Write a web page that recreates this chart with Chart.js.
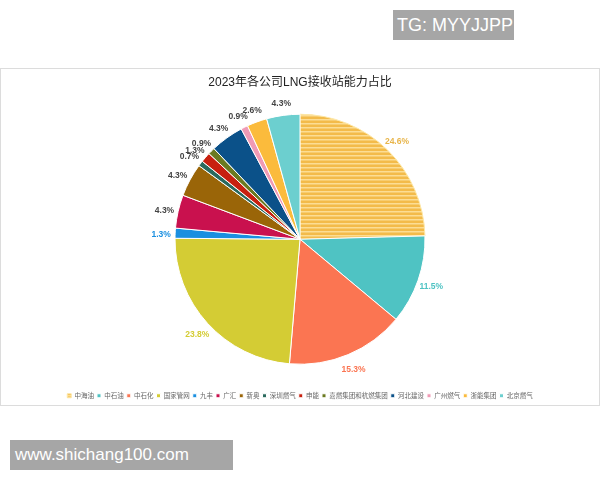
<!DOCTYPE html>
<html>
<head>
<meta charset="utf-8">
<script src="https://cdn.jsdelivr.net/npm/chart.js@4.4.1/dist/chart.umd.min.js"></script>
<style>
  body { margin: 0; width: 600px; height: 480px; background: #fff; position: relative; overflow: hidden; font-family: "Liberation Sans", "Noto Sans CJK SC", sans-serif; }
  #card { position: absolute; left: 0; top: 68px; width: 598px; height: 336px; border: 1px solid #dcdcdc; }
  #pieChart { position: absolute; left: 0; top: 0; }
  .mark { position: absolute; background: #a6a6a6; color: #fff; font-family: "Liberation Sans", sans-serif; }
  #tg { left: 393px; top: 10px; width: 121px; height: 30px; font-size: 18px; line-height: 30px; padding-left: 4px; box-sizing: border-box; }
  #site { left: 10px; top: 440px; width: 223px; height: 30px; font-size: 17px; line-height: 30px; padding-left: 5px; box-sizing: border-box; }
</style>
</head>
<body>
<div id="tg" class="mark">TG: MYYJJPP</div>
<div id="card"><canvas id="pieChart" width="598" height="340"></canvas></div>
<div id="site" class="mark">www.shichang100.com</div>
<script>
// 数据
const companies = ['中海油', '中石油', '中石化', '国家管网', '九丰', '广汇', '新奥', '深圳燃气', '申能', '嘉燃集团和杭燃集团', '河北建设', '广州燃气', '浙能集团', '北京燃气'];
const shares = [24.6, 11.5, 15.3, 23.8, 1.3, 4.3, 4.3, 0.7, 1.3, 0.9, 4.3, 0.9, 2.6, 4.3];
const sliceColors = ['#f4bd4e', '#4fc3c3', '#fb7552', '#d4cc34', '#1a8fe0', '#c9114e', '#9a6508', '#2a6a5e', '#c8200f', '#6b7a20', '#0b5189', '#f09ab5', '#fbbb3c', '#6ccfcf'];
const labelColors = ['#e8b54a', '#4fc3c3', '#fb7552', '#d4cc34', '#1a8fe0', '#444', '#444', '#444', '#444', '#444', '#444', '#444', '#444', '#444'];

// 中海油 横条纹填充
function stripePattern() {
    const c = document.createElement('canvas');
    c.width = 4; c.height = 4;
    const g = c.getContext('2d');
    g.fillStyle = '#f3bb4a';
    g.fillRect(0, 0, 4, 4);
    g.fillStyle = '#fcdd94';
    g.fillRect(0, 2, 4, 1.5);
    return g.createPattern(c, 'repeat');
}

const fills = sliceColors.slice();
fills[0] = stripePattern();

// 百分比标签画在扇形外面
const outsideLabels = {
    id: 'outsideLabels',
    afterDatasetsDraw(chart) {
        const ctx = chart.ctx;
        const meta = chart.getDatasetMeta(0);
        ctx.save();
        ctx.font = 'bold 8.5px "Liberation Sans", sans-serif';
        ctx.textAlign = 'center';
        ctx.textBaseline = 'middle';
        meta.data.forEach((arc, i) => {
            const p = arc.getProps(['x', 'y', 'startAngle', 'endAngle', 'outerRadius'], true);
            const mid = (p.startAngle + p.endAngle) / 2;
            const r = p.outerRadius + 14;
            ctx.fillStyle = labelColors[i];
            ctx.fillText(shares[i].toFixed(1) + '%', p.x + Math.cos(mid) * r, p.y + Math.sin(mid) * r + 2);
        });
        ctx.restore();
    }
};

const ctxPie = document.getElementById('pieChart').getContext('2d');
new Chart(ctxPie, {
    type: 'pie',
    data: {
        labels: companies,
        datasets: [{
            data: shares,
            backgroundColor: fills,
            borderColor: companies.map((c, i) => i === 0 ? '#fde7a6' : '#ffffff'),
            borderWidth: 1
        }]
    },
    options: {
        responsive: false,
        animation: false,
        radius: 125,
        plugins: {
            title: {
                display: true,
                text: '2023年各公司LNG接收站能力占比',
                color: '#222',
                font: { size: 12, lineHeight: 1, weight: 'normal', family: '"Liberation Sans", "Noto Sans CJK SC", sans-serif' },
                padding: { top: 8, bottom: 0 }
            },
            legend: {
                position: 'bottom',
                labels: {
                    boxWidth: 4,
                    boxHeight: 4,
                    padding: 3,
                    color: '#666',
                    font: { size: 6.5, family: '"Noto Sans CJK SC", sans-serif' }
                }
            },
            tooltip: { enabled: false }
        }
    },
    plugins: [outsideLabels]
});
</script>
</body>
</html>
